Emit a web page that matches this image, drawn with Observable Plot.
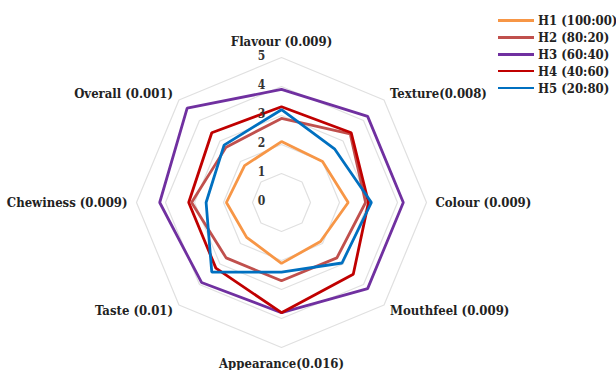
<!DOCTYPE html>
<html>
<head>
<meta charset="utf-8">
<script src="https://cdn.jsdelivr.net/npm/d3@7"></script>
<script src="https://cdn.jsdelivr.net/npm/@observablehq/plot@0.6"></script>
<style>
  html, body { margin: 0; padding: 0; background: #fff; }
  #wrap { position: relative; width: 616px; height: 370px; font-family: "DejaVu Serif Condensed", "DejaVu Serif", serif; font-stretch: condensed; }
  #legend { position: absolute; left: 498px; top: 12px; font-weight: bold; font-size: 13px; color: #222; }
  .row { display: flex; align-items: center; height: 16.9px; white-space: nowrap; }
  .sw { width: 36px; height: 2.6px; margin-right: 4px; }
</style>
</head>
<body>
<div id="wrap"><div id="legend"></div></div>
<script>
const categories = ["Flavour (0.009)", "Texture(0.008)", "Colour (0.009)", "Mouthfeel (0.009)", "Appearance(0.016)", "Taste (0.01)", "Chewiness (0.009)", "Overall (0.001)"];
const seriesNames = ["H1 (100:00)", "H2 (80:20)", "H3 (60:40)", "H4 (40:60)", "H5 (20:80)"];
const seriesColors = ["#F79646", "#C0504D", "#7030A0", "#C00000", "#0070C0"];
const h1 = [2.1, 2.0, 2.3, 1.9, 2.1, 1.7, 1.9, 1.8];
const h2 = [2.9, 3.35, 2.9, 2.7, 2.7, 2.7, 3.1, 2.7];
const h3 = [3.9, 4.2, 4.2, 4.2, 3.8, 3.9, 4.2, 4.6];
const h4 = [3.3, 3.4, 3.0, 3.5, 3.8, 3.2, 3.2, 3.4];
const h5 = [3.2, 2.6, 3.1, 2.95, 2.4, 3.4, 2.6, 2.8];
const ticks = [0, 1, 2, 3, 4, 5];

const seriesValues = [h1, h2, h3, h4, h5];
const n = categories.length;
const ang = i => i * 2 * Math.PI / n;

const points = [];
seriesValues.forEach((vals, s) => vals.forEach((v, i) => {
  points.push({series: seriesNames[s], axis: categories[i], value: v, x: v * Math.sin(ang(i)), y: v * Math.cos(ang(i))});
}));

const rings = [];
ticks.filter(t => t > 0).forEach(t => categories.forEach((c, i) => {
  rings.push({ring: t, x: t * Math.sin(ang(i)), y: t * Math.cos(ang(i))});
}));

const maxTick = d3.max(ticks);
const labels = categories.map((c, i) => {
  const s = Math.sin(ang(i)), co = Math.cos(ang(i));
  return {
    label: c,
    x: maxTick * s, y: maxTick * co,
    anchor: s > 0.1 ? "start" : s < -0.1 ? "end" : "middle",
    dx: Math.abs(s) < 0.1 ? 0 : Math.sign(s) * (Math.abs(s) > 0.9 ? 9 : 6),
    dy: Math.abs(co) < 0.1 ? 0 : -Math.sign(co) * (Math.abs(co) > 0.9 ? 16 : 6)
  };
});

const font = '"DejaVu Serif Condensed", "DejaVu Serif", serif';

const chart = Plot.plot({
  width: 616,
  height: 370,
  marginLeft: 136,
  marginRight: 190,
  marginTop: 57,
  marginBottom: 23,
  style: {fontFamily: font, fontStretch: "condensed", background: "transparent", overflow: "visible"},
  x: {domain: [-maxTick, maxTick], axis: null},
  y: {domain: [-maxTick, maxTick], axis: null},
  color: {domain: seriesNames, range: seriesColors},
  marks: [
    Plot.line(rings, {x: "x", y: "y", z: "ring", curve: "linear-closed", stroke: "#e0e0e0", strokeWidth: 1.2}),
    Plot.line(points, {x: "x", y: "y", z: "series", stroke: "series", curve: "linear-closed", strokeWidth: 2.8, strokeLinejoin: "miter"}),
    Plot.text(ticks, {x: 0, y: d => d, text: d => String(d), dx: -20, dy: -1, fontSize: 12, fontWeight: "bold", fill: "#333"}),
    ...labels.map(l => Plot.text([l], {x: "x", y: "y", text: "label", textAnchor: l.anchor, dx: l.dx, dy: l.dy, fontSize: 13, fontWeight: "bold", fill: "#222"}))
  ]
});

const wrap = document.getElementById("wrap");
wrap.insertBefore(chart, wrap.firstChild);

const legend = document.getElementById("legend");
seriesNames.forEach((name, i) => {
  const row = document.createElement("div");
  row.className = "row";
  const sw = document.createElement("span");
  sw.className = "sw";
  sw.style.background = seriesColors[i];
  const t = document.createElement("span");
  t.textContent = name;
  row.appendChild(sw);
  row.appendChild(t);
  legend.appendChild(row);
});
</script>
</body>
</html>
